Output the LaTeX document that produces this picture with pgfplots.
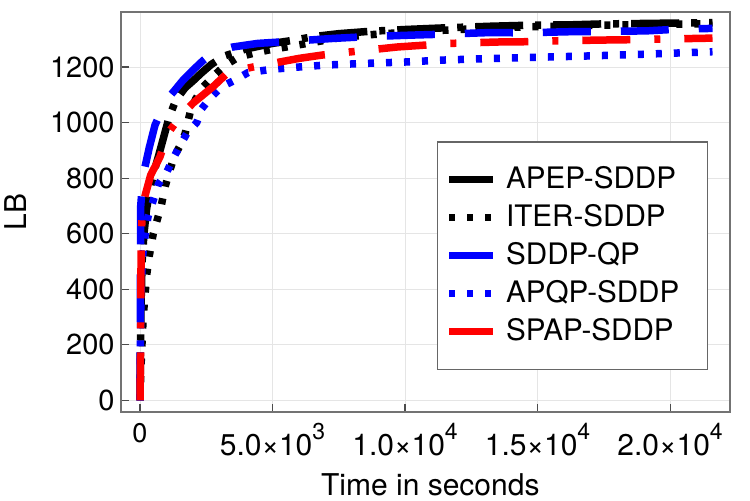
\documentclass[border=0pt]{standalone}
\usepackage{pgfplots}
\pgfplotsset{compat=1.18}
\usepackage{fontspec}
\setmainfont{TeX Gyre Heros}
\newcommand\sci[2]{#1×10\raisebox{8pt}{\fontsize{11.5}{12}\selectfont #2}}
\begin{document}
\begin{tikzpicture}
\useasboundingbox (-60.5pt,-44pt) rectangle (314.5pt,206pt);
\begin{axis}[
  at={(0pt,0pt)}, anchor=south west,
  scale only axis, width=304.5pt, height=200pt,
  xmin=-717, xmax=22260, ymin=-42, ymax=1398,
  scaled x ticks=false, scaled y ticks=false,
  axis line style={black!55, line width=0.75pt},
  tick align=inside, tick pos=left, major tick length=4pt,
  tick style={black!70, line width=0.6pt},
  grid=major, grid style={black!10, line width=0.5pt},
  xtick={0,5000,10000,15000,20000},
  xticklabels={{\fontsize{13.5}{14}\selectfont 0}, \sci{5.0}{3}, \sci{1.0}{4}, \sci{1.5}{4}, \sci{2.0}{4}},
  xticklabel style={font=\fontsize{15}{16}\selectfont, inner sep=0pt, yshift=-5.5pt},
  ytick={0,200,400,600,800,1000,1200},
  yticklabel style={font=\fontsize{14.5}{15}\selectfont, inner sep=0pt, xshift=-3pt},
  /pgf/number format/assume math mode=true,
  /pgf/number format/1000 sep={},
  xlabel={Time in seconds},
  xlabel style={at={(axis description cs:0.508,-0.2075)}, anchor=base, font=\fontsize{15}{16}\selectfont, inner sep=0pt},
  ylabel={LB},
  ylabel style={at={(axis description cs:-0.1724,0.5)}, anchor=center, font=\fontsize{15}{16}\selectfont, inner sep=0pt},
  legend style={at={(axis description cs:0.964,0.6775)}, anchor=north east, draw=black!60, line width=0.75pt, fill=white, inner xsep=4pt, inner ysep=11.4pt, row sep=4pt, column sep=4.5pt, font=\fontsize{14.8}{15}\selectfont, nodes={inner sep=0pt, text height=12pt, text depth=3pt}},
  legend cell align=left,
  legend image code/.code={\draw[#1] (0pt,0pt) -- (22pt,0pt);},
  every axis plot/.append style={line width=3.75pt, line cap=butt, line join=round},
]
\addplot[black, dash pattern=on 24pt off 6pt on 3pt off 6pt] coordinates {
(0,0) (20,200) (40,350) (80,500) (150,600) (250,690) (400,770) (550,830) (700,880) (900,950) (1100,1020) (1350,1080) (1700,1125) (2000,1150) (2300,1177) (2700,1210) (3200,1240) (4000,1265) (5000,1285) (5700,1295) (6600,1310) (7500,1320) (8600,1328) (10000,1335) (11500,1341) (13300,1347) (14500,1350) (16300,1352) (17400,1355) (19200,1357) (21600,1360)};
\addlegendentry{APEP-SDDP\hspace*{10pt}}
\addplot[black, dash pattern=on 3pt off 6pt] coordinates {
(0,0) (50,150) (120,300) (250,450) (350,520) (500,600) (650,650) (800,700) (950,770) (1100,820) (1300,880) (1500,915) (1700,960) (1900,1040) (2100,1085) (2400,1130) (2800,1170) (3200,1205) (3700,1235) (4300,1250) (4900,1262) (5700,1275) (6500,1288) (7500,1305) (8500,1315) (10000,1325) (12000,1335) (14000,1343) (17000,1350) (21600,1356)};
\addlegendentry{ITER-SDDP\hspace*{10pt}}
\addplot[blue, dash pattern=on 24pt off 15pt] coordinates {
(0,0) (5,150) (12,350) (20,550) (25,697) (100,790) (190,841) (350,910) (566,991) (800,1040) (1000,1081) (1300,1115) (1600,1150) (2000,1189) (2400,1225) (2755,1252) (3500,1272) (4450,1285) (5600,1292) (7300,1303) (8500,1309) (10300,1315) (11400,1318) (13200,1324) (14400,1323) (16200,1327) (17300,1328) (19100,1330) (20250,1336) (21600,1339)};
\addlegendentry{SDDP-QP\hspace*{10pt}}
\addplot[blue, dash pattern=on 3pt off 6pt] coordinates {
(0,0) (15,200) (40,400) (100,520) (200,600) (300,660) (450,705) (566,740) (700,780) (1000,820) (1250,870) (1450,907) (1760,960) (2140,1000) (2330,1050) (2640,1087) (3080,1129) (3585,1153) (4076,1180) (5000,1192) (6000,1200) (7000,1207) (8500,1213) (10000,1218) (11440,1225) (13000,1230) (15000,1235) (17000,1240) (19000,1246) (21600,1255)};
\addlegendentry{APQP-SDDP\hspace*{10pt}}
\addplot[red, dash pattern=on 24pt off 12pt on 3pt off 12pt] coordinates {
(0,0) (20,170) (30,300) (40,530) (60,620) (100,700) (200,740) (400,810) (755,877) (1057,962) (1510,1021) (2000,1070) (2755,1129) (3320,1180) (4265,1200) (6000,1231) (6870,1243) (7900,1254) (9700,1272) (11700,1285) (13500,1290) (14570,1291) (15600,1294) (17400,1297) (18300,1298) (19400,1300) (21600,1304)};
\addlegendentry{SPAP-SDDP\hspace*{10pt}}
\end{axis}
\end{tikzpicture}
\end{document}
